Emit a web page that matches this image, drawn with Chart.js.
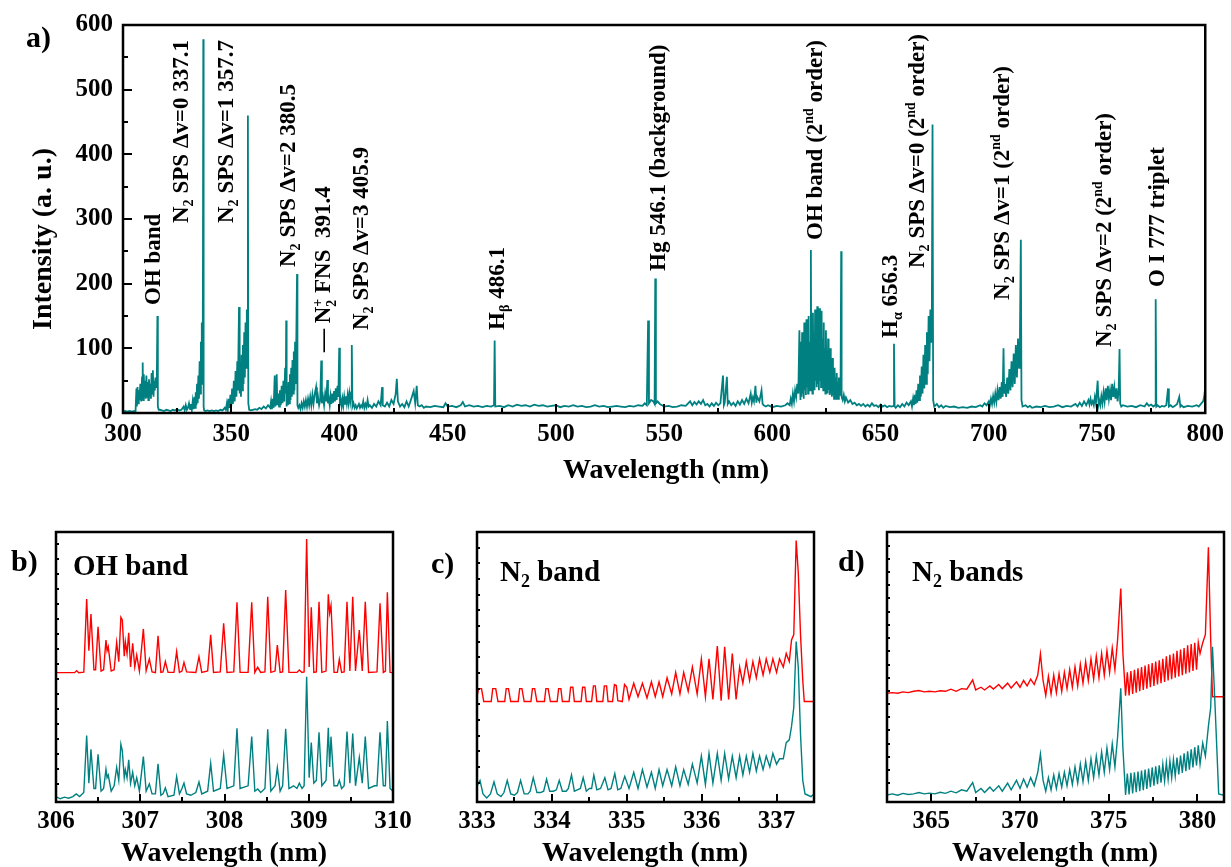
<!DOCTYPE html>
<html><head><meta charset="utf-8">
<script src="https://cdn.jsdelivr.net/npm/chart.js@4.4.1/dist/chart.umd.min.js"></script>
<style>
html,body{margin:0;padding:0;background:#fff;width:1231px;height:867px;overflow:hidden;position:relative;font-family:'Liberation Serif','Times New Roman',serif;}
canvas{position:absolute;}
.t{position:absolute;font-weight:bold;white-space:nowrap;color:#000;font-family:'Liberation Serif','Times New Roman',serif;}
.lbl{font-size:23px;line-height:23px;transform-origin:0 0;transform:rotate(-90deg);}
.t sub{font-size:0.62em;vertical-align:-0.32em;line-height:0;}
.t sup{font-size:0.6em;vertical-align:0.62em;line-height:0;}
.stk{display:inline-block;font-size:0.6em;line-height:0.95em;vertical-align:-0.4em;text-align:left;}
.ax{font-size:28px;line-height:28px;}
.pl{font-size:30px;line-height:30px;}
.pt{font-size:29px;line-height:29px;}
</style></head>
<body>
<canvas id="cA" width="1231" height="460" style="left:0px;top:0px"></canvas>
<canvas id="cB" width="420" height="345" style="left:0px;top:500px"></canvas>
<canvas id="cC" width="420" height="345" style="left:420px;top:500px"></canvas>
<canvas id="cD" width="411" height="345" style="left:820px;top:500px"></canvas>

<div class="t pl" style="left:26px;top:22px">a)</div>
<div class="t pl" style="left:11px;top:546px">b)</div>
<div class="t pl" style="left:431px;top:548px">c)</div>
<div class="t pl" style="left:838px;top:546px">d)</div>

<div class="t pt" style="left:73px;top:551px">OH band</div>
<div class="t pt" style="left:500px;top:557px">N<sub>2</sub> band</div>
<div class="t pt" style="left:912px;top:557px">N<sub>2</sub> bands</div>

<div class="t ax" style="left:666px;top:455px;transform:translateX(-50%)">Wavelength (nm)</div>
<div class="t ax" style="left:224px;top:838px;transform:translateX(-50%)">Wavelength (nm)</div>
<div class="t ax" style="left:645px;top:838px;transform:translateX(-50%)">Wavelength (nm)</div>
<div class="t ax" style="left:1055px;top:838px;transform:translateX(-50%)">Wavelength (nm)</div>
<div class="t ax" style="left:28px;top:330px;transform-origin:0 0;transform:rotate(-90deg)">Intensity (a. u.)</div>

<div class="t lbl" style="left:141px;top:305px">OH band</div>
<div class="t lbl" style="left:169px;top:223px">N<sub>2</sub> SPS Δv=0 337.1</div>
<div class="t lbl" style="left:214px;top:223px">N<sub>2</sub> SPS Δv=1 357.7</div>
<div class="t lbl" style="left:276px;top:267px">N<sub>2</sub> SPS Δv=2 380.5</div>
<div class="t lbl" style="left:311px;top:352px">— N<span class="stk">+<br>2</span> FNS &nbsp;391.4</div>
<div class="t lbl" style="left:349px;top:330px">N<sub>2</sub> SPS Δv=3 405.9</div>
<div class="t lbl" style="left:485px;top:330px">H<sub>β</sub> 486.1</div>
<div class="t lbl" style="left:646px;top:271px">Hg 546.1 (background)</div>
<div class="t lbl" style="left:803px;top:240px">OH band (2<sup>nd</sup> order)</div>
<div class="t lbl" style="left:878px;top:338px">H<sub>α</sub> 656.3</div>
<div class="t lbl" style="left:905px;top:268px">N<sub>2</sub> SPS Δv=0 (2<sup>nd</sup> order)</div>
<div class="t lbl" style="left:990px;top:300px">N<sub>2</sub> SPS Δv=1 (2<sup>nd</sup> order)</div>
<div class="t lbl" style="left:1092px;top:347px">N<sub>2</sub> SPS Δv=2 (2<sup>nd</sup> order)</div>
<div class="t lbl" style="left:1145px;top:287px">O I 777 triplet</div>

<script>
// ---------- Panel a) full spectrum ----------
const mainWl = [300,301,302,303,304,305,305.8,
306.2,306.4,306.7,307,307.3,307.6,308,308.4,308.8,309.1,309.3,309.6,309.9,310.2,310.5,310.8,311.1,311.4,311.7,312,312.3,312.6,312.9,313.2,313.5,313.8,314.1,314.4,314.7,315,315.3,315.6,315.9,316.1,316.5,
317,318,319,320,321,322,323,324,325,326,327,328,328.5,329,329.5,330,330.5,331,331.4,331.8,332.2,332.6,333,333.3,333.6,333.9,334.2,334.5,334.8,335.1,335.4,335.7,336,336.2,336.4,336.6,336.8,336.95,337.1,337.25,337.5,
338,339,340,341,342,343,344,345,346,347,347.5,348,348.4,348.8,349.2,349.6,350,350.4,350.8,351.2,351.6,352,352.4,352.8,353.1,353.6,353.9,354.2,354.5,354.8,355.1,355.4,355.7,356,356.3,356.6,356.9,357.2,357.45,357.7,357.9,358.3,
359,360,361,362,363,364,365,366,367,368,368.4,368.8,369.2,369.6,370.1,370.4,370.7,371,371.3,371.7,372.1,372.5,372.9,373.3,373.7,374.1,374.5,374.9,375.2,375.4,375.6,375.9,376.2,376.5,376.8,377.1,377.4,377.7,378,378.3,378.6,378.9,379.2,379.5,379.8,380.1,380.4,380.6,381,
381.5,382,382.5,383,383.5,384,384.5,385,385.5,386,386.5,387,387.5,388,388.6,389.2,389.6,390.1,390.6,391.1,391.6,391.9,392.4,392.9,393.4,393.9,394.4,394.7,395.1,395.5,395.9,396.3,396.7,397.1,397.5,397.9,398.3,398.7,399.1,399.5,399.9,400.2,400.6,401,401.4,401.8,402.2,402.6,403,403.4,403.8,404.2,404.6,405,405.4,405.7,406,
406.5,407,407.5,408,409,409.5,410,410.5,411,411.5,412,412.5,413,413.5,414,415,416,417,418,419,419.7,420,421,422,423,424,425,426,426.5,427,428,429,430,431,432,433,434.3,435,435.7,436.2,437,438,439,440,
442,444,446,448,449,450,452,454,456,457,458,460,462,464,466,468,470,471.4,471.7,472,474,476,478,480,482,484,486,488,490,492,494,496,498,500,502,504,506,508,510,512,514,516,518,520,522,524,526,528,530,532,534,536,538,540,
541,542,542.6,543,544,545,545.6,545.9,546.2,547,548,549,550,
552,554,556,558,560,562,563,564,565,566,567,568,569,570,571,572,573,574,575,576,577.2,577.6,578,579,579.4,580,581,582,583,584,585,586,587,588,589,590,590.5,591,591.5,592.2,592.6,593,594,595,595.5,596,597,598,600,602,604,606,607,608,608.5,609,609.5,610,610.5,611,611.5,612,612.5,612.8,
613,613.25,613.5,613.75,614,614.25,614.5,614.75,615,615.25,615.5,615.75,616,616.25,616.5,616.75,617,617.25,617.5,617.8,618,618.25,618.5,618.75,619,619.25,619.5,619.75,620,620.25,620.5,620.75,621,621.25,621.5,621.75,622,622.25,622.5,622.75,623,623.25,623.5,623.75,624,624.25,624.5,624.75,625,625.25,625.5,625.75,626,626.25,626.5,626.75,627,627.25,627.5,627.75,628,628.25,628.5,628.75,629,629.25,629.5,629.75,630,630.25,630.5,630.75,631,631.25,631.5,631.8,632,632.5,633,633.5,634,635,636,637,638,639,640,
641,642,643,644,645,646,647,648,649,650,651,652,653,654,655,656,656.2,656.5,657,658,659,660,661,662,663,664,
664.5,665,665.4,665.8,666.2,666.6,667,667.4,667.8,668.2,668.6,669,669.4,669.8,670.2,670.6,671,671.4,671.8,672.2,672.6,673,673.4,673.7,674,674.3,674.8,
676,677,678,679,680,682,684,686,688,690,692,694,696,697,698,699,
700,700.5,701,701.5,702,702.5,703,703.5,704,704.5,705,705.5,706,706.4,706.8,707.1,707.5,708,708.5,709,709.5,710,710.5,711,711.5,712,712.5,713,713.5,714,714.4,714.8,715.1,715.6,
717,718,719,720,722,724,726,728,730,732,734,736,738,740,741,742,743,744,745,
746,746.5,747,747.5,748,748.5,749,749.5,750.3,750.7,751,751.5,752,752.5,753,753.5,754,754.5,755,755.5,756,756.5,757,757.5,758,758.5,759,759.5,760,760.4,760.7,761.2,
762,764,766,768,770,772,773,774,775,776,776.8,777.1,777.4,778,779,780,781,782,782.8,783.2,784,785,786,787,788,788.5,789,790,792,794,796,797,798,799,799.5,800];

const mainInt = [2,3,2,3,2,3,3,
38,10,40,15,35,20,45,18,55,78,20,60,25,50,22,58,25,48,20,52,28,45,22,62,30,66,25,50,35,55,40,45,150,10,5,
5,4,3,5,4,3,5,4,6,4,5,10,4,12,5,8,15,6,14,5,18,6,25,8,32,12,45,15,58,22,80,30,110,45,140,70,175,100,578,10,4,
3,4,3,4,3,4,3,5,4,8,5,15,5,22,8,28,10,38,14,50,18,65,25,80,35,164,30,70,25,90,35,105,45,125,55,140,70,160,90,460,15,5,
4,5,6,5,8,6,10,7,12,8,18,6,22,8,58,10,25,60,12,30,10,35,12,42,15,50,18,70,30,143,10,35,12,48,15,60,20,70,25,82,30,95,35,110,45,125,215,12,8,
12,6,15,8,18,10,20,10,22,12,25,12,28,14,30,40,15,25,12,20,81,15,25,12,30,18,51,15,22,12,26,14,30,16,34,18,38,20,42,25,101,12,20,10,22,12,25,14,26,15,28,16,30,18,32,105,10,
15,8,12,7,14,8,12,9,18,8,14,9,20,10,12,8,14,10,18,12,40,12,10,16,10,20,14,30,53,18,10,14,9,18,10,20,34,15,42,12,10,12,8,10,
9,11,10,9,15,10,11,9,12,17,10,12,10,11,9,11,10,12,112,10,11,9,12,10,13,11,12,10,13,11,12,10,11,12,9,11,10,12,10,11,9,10,12,10,11,9,10,11,10,9,11,10,12,11,
15,12,143,15,20,18,14,208,15,18,14,12,10,
11,9,10,12,11,18,12,17,13,18,14,20,12,14,10,15,11,16,12,15,58,12,16,56,14,18,12,16,11,18,13,20,14,22,15,30,16,24,18,42,16,25,18,35,14,12,10,12,9,11,10,12,15,12,22,14,30,18,35,25,45,30,128,40,
20,110,25,125,30,95,22,140,35,105,28,145,40,120,30,150,45,110,35,252,40,135,30,155,45,120,35,160,50,130,40,165,45,140,35,162,50,125,40,158,45,115,35,140,40,100,30,128,38,95,30,115,35,85,28,100,30,75,25,85,28,62,22,70,25,55,22,62,25,48,22,55,28,45,30,250,25,20,28,18,24,16,20,14,16,12,14,
11,14,10,13,10,15,11,12,9,13,10,12,9,11,10,11,107,10,8,12,9,14,10,16,12,18,
10,22,12,28,14,35,16,45,20,58,25,72,30,90,38,105,45,125,60,150,80,160,110,170,446,20,10,
14,9,12,8,11,9,10,8,9,8,10,9,12,10,15,12,
18,12,22,14,26,16,30,18,35,20,40,22,48,25,100,30,45,25,55,30,68,35,80,40,92,45,105,55,115,70,125,268,20,10,
12,9,11,8,10,9,11,9,10,12,9,11,10,14,10,16,11,18,12,
20,13,22,14,18,12,25,15,50,14,20,12,26,15,32,18,38,20,42,22,35,20,45,25,40,22,38,18,35,99,15,10,
12,10,11,9,12,10,15,11,13,10,12,176,10,12,9,11,10,12,38,10,12,9,11,14,25,10,12,9,11,10,12,10,14,18,25,40];

const mainXMajor = [300,350,400,450,500,550,600,650,700,750,800];
const mainXMinor = [325,375,425,475,525,575,625,675,725,775];
const mainYMajor = [0,100,200,300,400,500,600];
const mainYMinor = [50,150,250,350,450,550];

// ---------- Panel b) OH band ----------
const bSimWl = [306.00,306.22,306.245,306.27,306.33,306.364,306.39,306.415,306.45,306.47,306.499,306.535,306.565,306.593,306.606,306.62,306.655,306.69,306.72,306.745,306.77,306.787,306.81,306.823,306.843,306.863,306.885,306.91,306.935,306.958,306.99,307.037,307.07,307.108,307.14,307.18,307.211,307.245,307.27,307.298,307.33,307.40,307.432,307.465,307.495,307.519,307.55,307.66,307.697,307.73,307.80,307.836,307.87,307.95,307.99,308.03,308.11,308.148,308.185,308.28,308.323,308.36,308.394,308.43,308.48,308.513,308.55,308.60,308.627,308.66,308.69,308.726,308.765,308.86,308.888,308.92,308.945,308.975,309.005,309.03,309.06,309.09,309.122,309.155,309.205,309.232,309.248,309.264,309.30,309.34,309.363,309.39,309.42,309.454,309.488,309.522,309.555,309.6,309.635,309.671,309.71,309.81,309.846,309.885,309.91,309.933,309.965,310.0];
const bSimI = [.479,.479,.486,.479,.481,.752,.56,.696,.49,.49,.649,.485,.49,.60,.56,.575,.485,.49,.591,.52,.684,.674,.54,.594,.55,.627,.50,.588,.50,.544,.485,.641,.486,.53,.482,.479,.616,.48,.482,.52,.48,.48,.557,.48,.485,.517,.482,.48,.538,.48,.485,.619,.48,.482,.662,.48,.482,.74,.48,.48,.74,.48,.499,.48,.482,.76,.48,.485,.581,.48,.482,.785,.48,.48,.489,.48,.482,.974,.50,.721,.48,.482,.742,.48,.485,.769,.70,.728,.48,.48,.528,.48,.482,.742,.485,.76,.485,.637,.485,.742,.48,.482,.736,.48,.485,.777,.48,.479];
const bExpWl = [306.00,306.05,306.1,306.15,306.2,306.24,306.28,306.33,306.364,306.39,306.415,306.45,306.47,306.499,306.535,306.565,306.593,306.606,306.62,306.655,306.69,306.72,306.745,306.77,306.787,306.81,306.823,306.843,306.863,306.885,306.91,306.935,306.958,306.99,307.037,307.07,307.108,307.14,307.18,307.211,307.245,307.27,307.298,307.33,307.40,307.432,307.465,307.495,307.519,307.55,307.60,307.66,307.697,307.73,307.80,307.836,307.87,307.95,307.99,308.03,308.11,308.148,308.185,308.28,308.323,308.36,308.394,308.43,308.48,308.513,308.55,308.60,308.627,308.66,308.69,308.726,308.765,308.82,308.86,308.888,308.92,308.945,308.975,309.005,309.03,309.06,309.09,309.122,309.155,309.205,309.232,309.248,309.264,309.30,309.34,309.363,309.39,309.42,309.454,309.488,309.522,309.555,309.6,309.635,309.671,309.71,309.78,309.81,309.846,309.885,309.91,309.933,309.965,310.0];
const bExpI = [.02,.012,.018,.014,.02,.03,.02,.035,.246,.07,.195,.05,.05,.177,.04,.05,.121,.09,.10,.04,.06,.128,.08,.214,.19,.09,.12,.09,.156,.07,.11,.06,.09,.04,.168,.04,.067,.03,.03,.141,.025,.03,.052,.02,.025,.094,.03,.05,.07,.03,.025,.035,.074,.03,.04,.143,.04,.05,.174,.05,.06,.273,.05,.06,.242,.04,.048,.035,.05,.269,.04,.06,.127,.04,.06,.271,.05,.06,.05,.07,.05,.06,.464,.09,.22,.07,.08,.258,.06,.08,.275,.13,.242,.06,.06,.08,.05,.06,.261,.07,.254,.06,.165,.07,.242,.05,.06,.06,.258,.06,.06,.30,.05,.04];
const bXMajor = [306,307,308,309,310];
const bXMinor = [306.5,307.5,308.5,309.5];
const bYMinor = [.0667,.122,.178,.233,.289,.344,.4,.456,.511,.567,.622,.678,.733,.789,.844,.9,.956];

// ---------- Panel c) N2 band ----------
const cSimWl = [333.0,333.02,333.06,333.09,333.19,333.21,333.25,333.28,333.37,333.39,333.42,333.45,333.55,333.57,333.60,333.63,333.72,333.74,333.77,333.80,333.90,333.92,333.95,333.98,334.07,334.09,334.12,334.14,334.23,334.25,334.28,334.30,334.39,334.41,334.44,334.46,334.53,334.555,334.58,334.60,334.68,334.70,334.73,334.75,334.81,334.835,334.86,334.88,334.94,334.97,335.0,335.03,335.093,335.15,335.209,335.27,335.329,335.38,335.431,335.48,335.538,335.60,335.653,335.71,335.76,335.82,335.876,335.94,335.996,336.05,336.098,336.15,336.209,336.26,336.307,336.36,336.409,336.46,336.507,336.55,336.596,336.64,336.684,336.73,336.773,336.82,336.862,336.91,336.951,337.0,337.04,337.09,337.129,337.17,337.2,337.23,337.262,337.29,337.32,337.35,337.37,337.5];
const cSimI = [.39,.42,.42,.372,.372,.42,.42,.372,.372,.42,.42,.372,.372,.42,.42,.372,.372,.42,.42,.372,.372,.42,.42,.372,.372,.42,.42,.372,.372,.425,.425,.372,.372,.425,.425,.372,.372,.43,.43,.372,.372,.43,.43,.372,.372,.435,.432,.375,.372,.435,.425,.38,.44,.39,.44,.385,.445,.39,.445,.39,.46,.40,.48,.40,.48,.41,.50,.40,.53,.39,.53,.38,.578,.375,.575,.38,.55,.38,.50,.44,.52,.45,.52,.46,.53,.47,.53,.48,.53,.48,.53,.50,.55,.52,.60,.62,.968,.85,.62,.45,.372,.372];
const cExpWl = [333.0,333.04,333.08,333.13,333.18,333.227,333.27,333.32,333.36,333.404,333.45,333.5,333.54,333.582,333.63,333.68,333.71,333.751,333.8,333.85,333.89,333.929,333.97,334.02,334.06,334.098,334.14,334.19,334.22,334.262,334.30,334.34,334.38,334.418,334.46,334.5,334.53,334.56,334.6,334.65,334.707,334.75,334.79,334.84,334.88,334.92,334.973,335.03,335.093,335.15,335.209,335.27,335.329,335.38,335.431,335.48,335.538,335.60,335.653,335.71,335.76,335.82,335.876,335.94,335.996,336.05,336.098,336.15,336.209,336.26,336.307,336.36,336.409,336.46,336.507,336.55,336.596,336.64,336.684,336.73,336.773,336.82,336.862,336.91,336.951,337.0,337.04,337.09,337.129,337.17,337.2,337.23,337.262,337.29,337.32,337.35,337.38,337.42,337.46,337.5];
const cExpI = [.06,.08,.03,.015,.03,.075,.03,.02,.035,.08,.03,.025,.035,.08,.03,.03,.04,.09,.035,.035,.04,.085,.04,.04,.045,.08,.04,.04,.05,.10,.04,.045,.05,.09,.04,.05,.05,.10,.045,.05,.09,.045,.05,.105,.045,.05,.095,.05,.11,.05,.12,.055,.11,.05,.12,.06,.12,.06,.13,.06,.12,.065,.14,.07,.17,.065,.18,.07,.18,.08,.18,.085,.17,.09,.17,.10,.17,.11,.18,.115,.17,.12,.17,.13,.18,.14,.16,.16,.22,.23,.28,.35,.594,.50,.25,.08,.03,.025,.02,.03];
const cXMajor = [333,334,335,336,337];
const cXMinor = [333.5,334.5,335.5,336.5,337.5];
const cYMinor = [.0716,.13,.188,.246,.304,.362,.42,.478,.536,.594,.652,.71,.768,.826,.884,.94];

// ---------- Panel d) N2 bands ----------
const dSimWl = [362.5,362.8,363.1,363.4,363.7,364.0,364.3,364.6,364.9,365.2,365.5,365.8,366.1,366.4,366.7,367.0,367.33,367.5,367.8,368.0,368.3,368.5,368.8,369.0,369.3,369.5,369.8,370.0,370.2,370.4,370.6,370.8,371.0,371.15,371.3,371.45,371.6,371.75,371.9,372.05,372.2,372.35,372.5,372.65,372.8,372.95,373.1,373.25,373.4,373.55,373.7,373.85,374.0,374.15,374.3,374.45,374.6,374.75,374.9,375.05,375.2,375.35,375.5,375.68,375.8,375.95,376.05,376.15,376.25,376.35,376.45,376.55,376.65,376.75,376.85,376.95,377.05,377.15,377.25,377.35,377.45,377.55,377.65,377.75,377.85,377.95,378.05,378.15,378.25,378.35,378.45,378.55,378.65,378.75,378.85,378.95,379.05,379.15,379.25,379.35,379.45,379.55,379.65,379.75,379.85,379.95,380.05,380.15,380.3,380.45,380.62,380.75,380.85,381.5];
const dSimI = [.403,.405,.403,.408,.405,.41,.413,.408,.41,.408,.412,.41,.418,.41,.42,.418,.452,.415,.425,.415,.43,.418,.435,.42,.44,.422,.445,.425,.45,.43,.455,.435,.47,.548,.45,.394,.465,.40,.47,.405,.475,.41,.48,.42,.49,.425,.50,.43,.51,.44,.52,.45,.53,.455,.54,.46,.55,.47,.56,.48,.57,.49,.60,.791,.55,.394,.48,.395,.485,.40,.49,.405,.495,.41,.50,.415,.505,.42,.51,.425,.515,.43,.52,.435,.525,.44,.53,.445,.54,.45,.545,.455,.55,.46,.56,.465,.565,.47,.57,.475,.58,.48,.585,.485,.59,.49,.59,.55,.59,.62,.943,.60,.39,.39];
const dExpWl = [362.5,362.8,363.1,363.4,363.7,364.0,364.3,364.6,364.9,365.2,365.5,365.8,366.1,366.4,366.7,367.0,367.33,367.5,367.8,368.0,368.3,368.5,368.8,369.0,369.3,369.5,369.8,370.0,370.2,370.4,370.6,370.8,371.0,371.15,371.3,371.45,371.6,371.75,371.9,372.05,372.2,372.35,372.5,372.65,372.8,372.95,373.1,373.25,373.4,373.55,373.7,373.85,374.0,374.15,374.3,374.45,374.6,374.75,374.9,375.05,375.2,375.35,375.5,375.68,375.8,375.95,376.05,376.15,376.25,376.35,376.45,376.55,376.65,376.75,376.85,376.95,377.05,377.15,377.25,377.35,377.45,377.55,377.65,377.75,377.85,377.95,378.05,378.15,378.25,378.35,378.45,378.55,378.65,378.75,378.85,378.95,379.05,379.15,379.25,379.35,379.45,379.55,379.65,379.75,379.85,379.95,380.05,380.15,380.3,380.45,380.62,380.75,380.85,381.0,381.2,381.5];
const dExpI = [.026,.03,.025,.032,.028,.03,.035,.03,.033,.03,.036,.032,.04,.034,.045,.04,.072,.035,.05,.035,.055,.04,.06,.04,.07,.045,.08,.05,.085,.055,.09,.06,.11,.178,.08,.04,.09,.045,.10,.05,.105,.055,.11,.06,.12,.065,.13,.07,.14,.075,.15,.08,.16,.09,.17,.10,.185,.11,.20,.12,.215,.13,.24,.421,.20,.026,.105,.028,.108,.032,.11,.036,.113,.04,.116,.044,.12,.048,.124,.055,.128,.06,.132,.066,.136,.072,.14,.078,.146,.084,.152,.09,.158,.096,.165,.102,.172,.108,.18,.114,.188,.12,.195,.128,.203,.135,.21,.14,.218,.17,.28,.35,.575,.35,.03,.025,.03,.028];
const dXMajor = [365,370,375,380];
const dXMinor = [367.5,372.5,377.5];
const dYMinor = [.0691,.118,.167,.216,.265,.314,.362,.411,.46,.509,.558,.607,.656,.705,.754,.803,.851,.9,.949];

// ---------- drawing ----------
const TEAL = 'rgb(0,128,128)';
const RED = 'rgb(255,0,0)';
const pts = (xs, ys) => xs.map((x, i) => ({x: x, y: ys[i]}));

const frameTicks = {
  id: 'frameTicks',
  afterDatasetsDraw(chart, args, o) {
    const ctx = chart.ctx, a = chart.chartArea, xs = chart.scales.x, ys = chart.scales.y;
    ctx.save();
    ctx.strokeStyle = '#000';
    ctx.lineWidth = 2;
    const xt = (vals, len) => vals.forEach(v => {
      const p = Math.round(xs.getPixelForValue(v));
      ctx.beginPath(); ctx.moveTo(p, a.bottom); ctx.lineTo(p, a.bottom - len); ctx.stroke();
    });
    const yt = (vals, len) => vals.forEach(v => {
      const p = Math.round(ys.getPixelForValue(v));
      ctx.beginPath(); ctx.moveTo(a.left, p); ctx.lineTo(a.left + len, p); ctx.stroke();
    });
    xt(o.xMajor || [], o.majLen); xt(o.xMinor || [], o.minLen);
    yt(o.yMajor || [], o.majLen); yt(o.yMinor || [], o.yMinLen || o.minLen);
    ctx.lineWidth = 2.5;
    ctx.strokeRect(a.left, a.top, a.right - a.left, a.bottom - a.top);
    ctx.restore();
  }
};

const tickFont = {family: "'Liberation Serif','Times New Roman',serif", size: 25, weight: 'bold'};

function makeChart(id, datasets, c) {
  return new Chart(document.getElementById(id), {
    type: 'line',
    data: {datasets: datasets},
    options: {
      responsive: false, animation: false, devicePixelRatio: 1,
      layout: {padding: c.pad},
      plugins: {legend: {display: false}, tooltip: {enabled: false}, frameTicks: c.ticks},
      elements: {point: {radius: 0}, line: {tension: 0, borderWidth: c.lw}},
      scales: {
        x: {
          type: 'linear', min: c.xMin, max: c.xMax,
          grid: {display: false, drawTicks: false}, border: {display: false},
          afterFit: s => { s.height = c.xH; },
          afterBuildTicks: s => { s.ticks = c.xLabels.map(v => ({value: v})); },
          ticks: {font: tickFont, color: '#000', padding: c.xPad, maxRotation: 0, autoSkip: false}
        },
        y: {
          type: 'linear', min: c.yMin, max: c.yMax,
          grid: {display: false, drawTicks: false}, border: {display: false},
          afterFit: s => { s.width = c.yW; },
          afterBuildTicks: s => { s.ticks = c.yLabels.map(v => ({value: v})); },
          ticks: {display: c.yShow, font: tickFont, color: '#000', padding: 10, autoSkip: false}
        }
      }
    },
    plugins: [frameTicks]
  });
}

const ds = (data, color) => ({data: data, borderColor: color, backgroundColor: color, fill: false});

makeChart('cA', [ds(pts(mainWl, mainInt), TEAL)], {
  pad: {left: 0, top: 21, right: 22, bottom: 0}, lw: 1.8,
  xMin: 300, xMax: 800, yMin: 0, yMax: 600, xH: 47, yW: 123, xPad: 7, yShow: true,
  xLabels: mainXMajor, yLabels: mainYMajor,
  ticks: {xMajor: mainXMajor, xMinor: mainXMinor, yMajor: mainYMajor.slice(1, 6), yMinor: mainYMinor, majLen: 9, minLen: 5}
});

makeChart('cB', [ds(pts(bExpWl, bExpI), TEAL), ds(pts(bSimWl, bSimI), RED)], {
  pad: {left: 0, top: 32, right: 27, bottom: 0}, lw: 1.4,
  xMin: 306, xMax: 310, yMin: 0, yMax: 1, xH: 43, yW: 56, xPad: 5, yShow: false,
  xLabels: bXMajor, yLabels: [0, 1],
  ticks: {xMajor: bXMajor, xMinor: bXMinor, yMinor: bYMinor, majLen: 8, minLen: 5, yMinLen: 3}
});

makeChart('cC', [ds(pts(cExpWl, cExpI), TEAL), ds(pts(cSimWl, cSimI), RED)], {
  pad: {left: 0, top: 32, right: 26, bottom: 0}, lw: 1.4,
  xMin: 333, xMax: 337.5, yMin: 0, yMax: 1, xH: 43, yW: 57, xPad: 5, yShow: false,
  xLabels: cXMajor, yLabels: [0, 1],
  ticks: {xMajor: cXMajor, xMinor: cXMinor, yMinor: cYMinor, majLen: 8, minLen: 5, yMinLen: 3}
});

makeChart('cD', [ds(pts(dExpWl, dExpI), TEAL), ds(pts(dSimWl, dSimI), RED)], {
  pad: {left: 0, top: 32, right: 7, bottom: 0}, lw: 1.4,
  xMin: 362.5, xMax: 381.5, yMin: 0, yMax: 1, xH: 43, yW: 67, xPad: 5, yShow: false,
  xLabels: dXMajor, yLabels: [0, 1],
  ticks: {xMajor: dXMajor, xMinor: dXMinor, yMinor: dYMinor, majLen: 8, minLen: 5, yMinLen: 3}
});
</script>
</body></html>
